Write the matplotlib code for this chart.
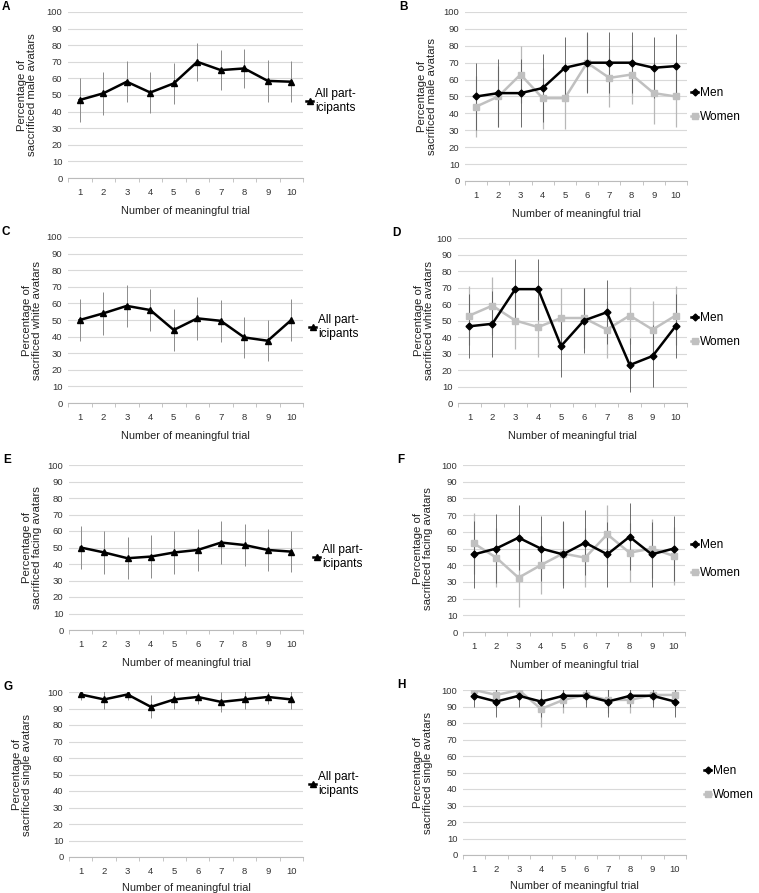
import matplotlib
matplotlib.use("Agg")
import matplotlib.pyplot as plt
from matplotlib.lines import Line2D

plt.rcParams['font.family'] = ['Liberation Sans', 'DejaVu Sans']

W, H = 759, 893

trials = [1, 2, 3, 4, 5, 6, 7, 8, 9, 10]

# A - male avatars, all participants
male_all = [47, 51, 58, 51.5, 57, 70, 65, 66, 58.5, 58]
male_all_err = [13, 13, 12.5, 12.5, 12.5, 11.5, 12, 12, 12.5, 12.5]
# B - male avatars by gender
male_men = [50, 52, 52, 55, 67, 70, 70, 70, 67, 68]
male_men_err = [20, 20, 20, 20, 18, 18, 18, 18, 18, 19]
male_women = [44, 50, 63, 49, 49, 70, 61, 63, 52, 50]
male_women_err = [18, 18, 17, 18, 18, 17.5, 17.5, 17.5, 18, 18]

# C - white avatars, all participants
white_all = [50, 54, 58.5, 56, 44, 51, 49.5, 39.5, 37.5, 50]
white_all_err = [12.8, 12.8, 12.5, 12.6, 12.8, 12.8, 12.6, 12.3, 12.3, 12.8]
# D - white avatars by gender
white_men = [46.5, 48, 69, 69, 34.5, 50, 55, 23, 28.5, 46.5]
white_men_err = [19.5, 20, 18.5, 18.5, 19, 19.5, 19.5, 16.5, 18.5, 19.5]
white_women = [53, 59, 50, 46, 51.5, 51.5, 44.5, 53, 44.5, 53]
white_women_err = [18, 17.5, 17, 18, 18, 18, 17.5, 17.5, 17.5, 18]

# E - facing avatars, all participants
facing_all = [50, 47, 43.5, 44.5, 47, 48.5, 53, 51.5, 48.5, 47.5]
facing_all_err = [13, 13, 12.8, 12.8, 13, 12.5, 12.8, 12.8, 12.5, 12.5]
# F - facing avatars by gender
facing_men = [46.5, 50, 56.5, 50, 46.5, 53.5, 46.5, 57, 46.5, 50]
facing_men_err = [20, 20.5, 19.5, 19.5, 20, 19.5, 19.5, 20, 19.5, 19.5]
facing_women = [53, 44.5, 32.5, 40, 47, 44.5, 58.5, 47.5, 50, 45.5]
facing_women_err = [18, 17.5, 17.5, 17.5, 19, 17.5, 17.5, 17.5, 17.5, 17.5]

# G - single avatars, all participants
single_all = [98.5, 95.5, 98.5, 91, 95.5, 97, 94, 95.5, 97, 95.5]
single_all_err = [3.5, 5.5, 3.5, 7, 5.5, 4, 6, 5.5, 4, 5.5]
# H - single avatars by gender
single_men = [96.5, 93, 96.5, 93, 96.5, 96.5, 93, 96.5, 96.5, 93]
single_men_err = [7, 9.5, 7, 9.5, 7, 7, 9.5, 7, 7, 9.5]
single_women = [100, 97, 100, 88.5, 94, 97, 94, 94, 97, 97]
single_women_err = [0, 5, 0, 11, 8, 5, 8, 8, 5, 5]

ylabels = [
    "Percentage of\nsaccrificed male avatars",
    "Percentage of\nsacrificed male avatars",
    "Percentage of\nsacrificed white avatars",
    "Percentage of\nsacrificed white avatars",
    "Percentage of\nsacrificed facing avatars",
    "Percentage of\nsacrificed facing avatars",
    "Percentage of\nsacrificed single avatars",
    "Percentage of\nsacrificed single avatars",
]

GRID = '#d9d9d9'
WOMEN = '#c0c0c0'
LEG_FS = 8.6

fig = plt.figure(figsize=(W / 100, H / 100), dpi=100)


def px_axes(l, t, r, b):
    return fig.add_axes([l / W, 1 - b / H, (r - l) / W, (b - t) / H])


def style_axes(ax, letter, ylabel, ylab_x, xlab_off, l, t, r, b):
    ax.set_xlim(0.5, 10.5)
    ax.set_ylim(0, 100)
    ax.set_yticks(range(0, 101, 10))
    ax.set_xticks(trials)
    ax.set_xticks([x + 0.5 for x in range(0, 11)], minor=True)
    ax.tick_params(axis='x', which='major', length=0, labelsize=6.8, colors='#333333', pad=7)
    ax.tick_params(axis='x', which='minor', length=3, color='#bbbbbb', direction='out')
    ax.tick_params(axis='y', length=0, labelsize=6.8, colors='#333333', pad=4)
    ax.yaxis.grid(True, color=GRID, lw=0.8)
    ax.set_axisbelow(True)
    for s in ['top', 'right', 'left']:
        ax.spines[s].set_visible(False)
    ax.spines['bottom'].set_color('#bbbbbb')
    ax.spines['bottom'].set_linewidth(0.8)
    ax.set_xlabel("Number of meaningful trial", fontsize=7.8, color='#222222')
    ax.xaxis.set_label_coords(0.5, -xlab_off / (b - t))
    ax.set_ylabel(ylabel, fontsize=8.2, color='#222222', linespacing=1.0)
    ax.yaxis.set_label_coords((ylab_x - l) / (r - l), 0.5)
    fig.text((l - 66) / W, 1 - (t - 5) / H, letter, fontsize=8.5, fontweight='bold',
             ha='left', va='center')


def plot_all(ax, vals, err, lx, ly):
    ax.errorbar(trials, vals, yerr=err, fmt='none', ecolor='#8c8c8c', elinewidth=0.7, capsize=0)
    ax.plot(trials, vals, color='black', lw=1.8, marker='^', ms=5)
    h = Line2D([], [], color='black', lw=1.8, marker='^', ms=5)
    ax.legend([h], ["All part-\nicipants"], loc='center left', frameon=False,
              bbox_to_anchor=((lx - 4) / W, 1 - ly / H), bbox_transform=fig.transFigure,
              fontsize=LEG_FS, handlelength=0.6, handletextpad=0.15, borderpad=0,
              borderaxespad=0)


def plot_gender(ax, men, men_err, women, women_err, lx, ly, gap):
    ax.errorbar(trials, women, yerr=women_err, fmt='none', ecolor='#b8b8b8', elinewidth=0.9, capsize=0)
    ax.errorbar(trials, men, yerr=men_err, fmt='none', ecolor='#555555', elinewidth=0.6, capsize=0)
    ax.plot(trials, women, color=WOMEN, lw=1.8, marker='s', ms=4.5)
    ax.plot(trials, men, color='black', lw=1.8, marker='D', ms=3.5)
    hm = Line2D([], [], color='black', lw=1.8, marker='D', ms=3.5)
    hw = Line2D([], [], color=WOMEN, lw=1.8, marker='s', ms=4.5)
    ax.legend([hm, hw], ["Men", "Women"], loc='center left', frameon=False,
              bbox_to_anchor=((lx - 4) / W, 1 - ly / H), bbox_transform=fig.transFigure,
              fontsize=LEG_FS, handlelength=0.6, handletextpad=0.15, borderpad=0,
              borderaxespad=0, labelspacing=gap)


boxes = [
    (68, 12, 303, 178), (465, 12, 687, 181),
    (68, 237, 303, 403), (458, 238, 687, 403),
    (69, 465, 303, 630), (463, 465, 685, 632),
    (69, 692, 303, 857), (463, 690, 686, 855),
]
ylab_right = [37, 437, 42, 434, 42, 433, 32, 433]
xlab_offsets = [28, 28, 28, 28, 28, 28, 26, 26]
letters = "ABCDEFGH"
axes = []
for i, (l, t, r, b) in enumerate(boxes):
    ax = px_axes(l, t, r, b)
    style_axes(ax, letters[i], ylabels[i], ylab_right[i], xlab_offsets[i], l, t, r, b)
    axes.append(ax)

plot_all(axes[0], male_all, male_all_err, 310, 101)
plot_gender(axes[1], male_men, male_men_err, male_women, male_women_err, 695, 105, 1.0)
plot_all(axes[2], white_all, white_all_err, 313, 327)
plot_gender(axes[3], white_men, white_men_err, white_women, white_women_err, 695, 330, 1.05)
plot_all(axes[4], facing_all, facing_all_err, 317, 557)
plot_gender(axes[5], facing_men, facing_men_err, facing_women, facing_women_err, 695, 559, 1.35)
plot_all(axes[6], single_all, single_all_err, 313, 784)
plot_gender(axes[7], single_men, single_men_err, single_women, single_women_err, 708, 783, 1.05)

fig.savefig("out.png", dpi=100)
